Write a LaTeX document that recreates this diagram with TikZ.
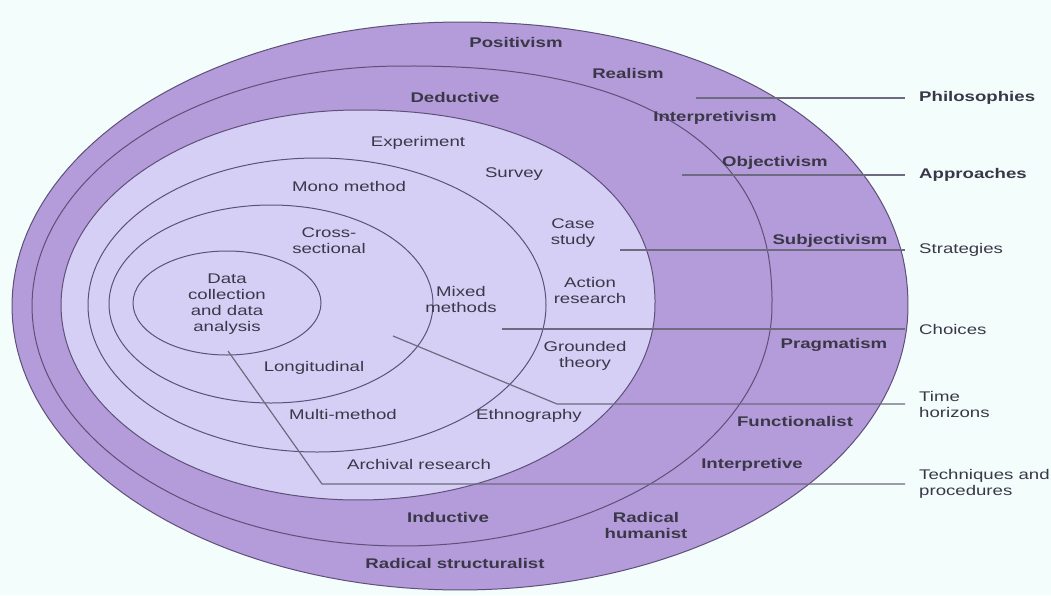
\documentclass[tikz,border=0pt]{standalone}
\usepackage{fontspec}
\setmainfont[FakeStretch=1.33]{Liberation Sans}
\definecolor{bgc}{HTML}{F3FDFC}
\definecolor{ringc}{HTML}{B49BD9}
\definecolor{innerc}{HTML}{D5CFF6}
\definecolor{edgec}{HTML}{5E5078}
\definecolor{leadc}{HTML}{6E6A80}
\definecolor{txtc}{HTML}{3A3848}
\begin{document}
\begin{tikzpicture}[x=1pt,y=-1pt,
  declare function={sp(\v,\p)=ifthenelse(\v<0,-1,1)*pow(abs(\v),\p);
                    ex(\t,\n)=ifthenelse(and(cos(\t)>0,sin(\t)<0),2/\n,1);},
  lbl/.style={font=\fontsize{14}{16}\selectfont\bfseries, text=txtc, align=center, inner sep=0pt},
  reg/.style={font=\fontsize{14}{16}\selectfont, text=txtc, align=center, inner sep=0pt},
  side/.style={font=\fontsize{14}{16}\selectfont, text=txtc, align=left, anchor=west, inner xsep=14pt, inner ysep=0pt},
  sideb/.style={side, font=\fontsize{14}{16}\selectfont\bfseries},
  ring/.style={draw=edgec, line width=1pt},
  lead/.style={draw=leadc, line width=1.2pt}]
\useasboundingbox (0,0) rectangle (1051,595);
\fill[bgc] (0,0) rectangle (1051,595);
% layers of the onion
\path[ring, fill=ringc] plot[domain=1:361, samples=181] ({460+448*sp(cos(\x),ex(\x,2.1))},{306+284*sp(sin(\x),ex(\x,2.1))}) -- cycle;
\path[ring, fill=ringc] plot[domain=1:361, samples=181] ({402+370*sp(cos(\x),ex(\x,2.4))},{306+240*sp(sin(\x),ex(\x,2.4))}) -- cycle;
\path[ring, fill=innerc] plot[domain=1:361, samples=181] ({358+297*sp(cos(\x),ex(\x,2.2))},{305+195*sp(sin(\x),ex(\x,2.2))}) -- cycle;
\draw[ring, fill=innerc] (317,305) ellipse [x radius=229, y radius=147];
\draw[ring, fill=innerc] (271,304) ellipse [x radius=162, y radius=99];
\draw[ring, fill=innerc] (227,303) ellipse [x radius=94, y radius=52];
% outer labels
\node[lbl] (positivism) at (516,42) {Positivism};
\node[lbl] (realism) at (628,73) {Realism};
\node[lbl] (deductive) at (455,97) {Deductive};
\node[lbl] (interpretivism) at (715,118) {Interpretivism};
\node[lbl] (objectivism) at (775,163) {Objectivism};
\node[lbl] (subjectivism) at (830,241) {Subjectivism};
\node[lbl] (pragmatism) at (834,345) {Pragmatism};
\node[lbl] (functionalist) at (795,421) {Functionalist};
\node[lbl] (interpretive) at (752,465) {Interpretive};
\node[lbl] (inductive) at (448,517) {Inductive};
\node[lbl] (humanist) at (646,525) {Radical\\humanist};
\node[lbl] (structuralist) at (455,563) {Radical structuralist};
% inner labels
\node[reg] (experiment) at (418,143) {Experiment};
\node[reg] (survey) at (514,174) {Survey};
\node[reg] (mono) at (349,186) {Mono method};
\node[reg] (case) at (573,233) {Case\\study};
\node[reg] (cross) at (329,241) {Cross-\\sectional};
\node[reg] (data) at (227,304) {Data\\collection\\and data\\analysis};
\node[reg] (mixed) at (461,299) {Mixed\\methods};
\node[reg] (action) at (590,290) {Action\\research};
\node[reg] (grounded) at (585,356) {Grounded\\theory};
\node[reg] (longitudinal) at (314,368) {Longitudinal};
\node[reg] (multi) at (343,414) {Multi-method};
\node[reg] (ethno) at (529,416) {Ethnography};
\node[reg] (archival) at (419,464) {Archival research};
% side labels
\node[sideb] (philo) at (905,98) {Philosophies};
\node[sideb] (appr) at (905,175) {Approaches};
\node[side] (strat) at (905,250) {Strategies};
\node[side] (choice) at (905,329) {Choices};
\node[side] (time) at (905,404) {Time\\horizons};
\node[side] (tech) at (905,484) {Techniques and\\procedures};
% leader lines
\coordinate (p1) at (696,98);
\coordinate (p2) at (682,175);
\coordinate (p3) at (620,250);
\coordinate (p4) at (502,329);
\coordinate (p5) at (393,336);
\coordinate (b5) at (557,404);
\coordinate (p6) at (228,351);
\coordinate (b6) at (322,484);
\draw[lead] (p1) -- (philo.west);
\draw[lead] (p2) -- (appr.west);
\draw[lead] (p3) -- (strat.west);
\draw[lead] (p4) -- (choice.west);
\draw[lead] (p5) -- (b5) -- (time.west);
\draw[lead] (p6) -- (b6) -- (tech.west);
\end{tikzpicture}
\end{document}
